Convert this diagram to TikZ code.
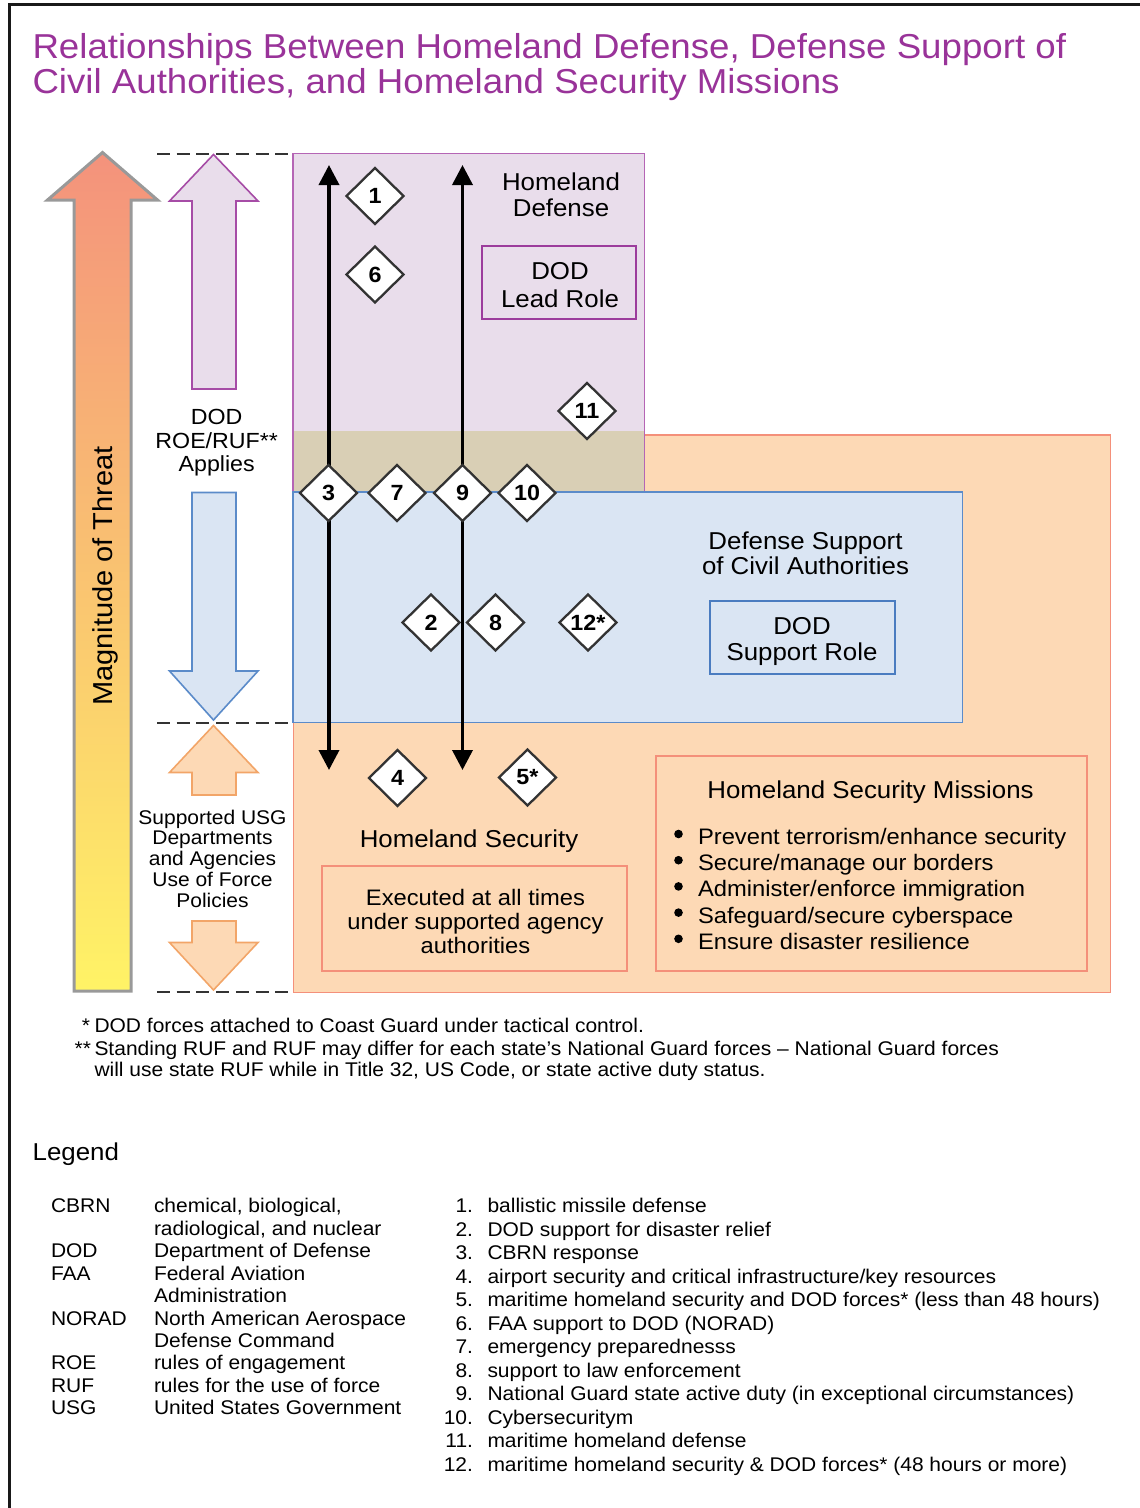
\documentclass[tikz,border=0pt]{standalone}
\usepackage{fontspec}
\setmainfont[FakeStretch=1.06]{Liberation Sans}
\usetikzlibrary{shapes.geometric,arrows.meta}
\definecolor{titlepurple}{RGB}{153,51,153}
\definecolor{hdfill}{RGB}{233,221,235}
\definecolor{hdstroke}{RGB}{181,101,181}
\definecolor{tanfill}{RGB}{217,207,181}
\definecolor{orfill}{RGB}{253,217,181}
\definecolor{orstroke}{RGB}{244,144,122}
\definecolor{blfill}{RGB}{218,229,243}
\definecolor{blstroke}{RGB}{91,139,201}
\definecolor{innerpurple}{RGB}{156,60,156}
\definecolor{innerblue}{RGB}{74,124,192}
\definecolor{arrorange}{RGB}{242,165,104}
\definecolor{arrpurple}{RGB}{166,76,166}
\definecolor{diagray}{RGB}{51,51,51}
\definecolor{threatgray}{RGB}{153,153,153}
\definecolor{thtop}{RGB}{244,146,124}
\definecolor{thmid}{RGB}{252,198,122}
\definecolor{thbot}{RGB}{255,243,102}
\newcommand{\setsz}[1]{\fontsize{#1}{#1}\selectfont}
\begin{document}
\begin{tikzpicture}[x=1pt,y=-1pt,
  lbl/.style={inner sep=0pt, outer sep=0pt, anchor=base},
  lblw/.style={inner sep=0pt, outer sep=0pt, anchor=base west},
  lble/.style={inner sep=0pt, outer sep=0pt, anchor=base east},
  t24/.style={font=\setsz{24.4}},
  t22/.style={font=\setsz{22.4}},
  t21/.style={font=\setsz{21.9}},
  t19/.style={font=\setsz{19.8}},
  dia/.style={diamond, draw=diagray, line width=2.3pt, fill=white,
    minimum width=58pt, minimum height=57pt, inner sep=0pt,
    font=\bfseries\setsz{22}},
  box/.style={draw, line width=2pt, minimum width=#1, inner sep=0pt},
  dashline/.style={draw=diagray, line width=2pt, dash pattern=on 13pt off 6.7pt},
  blackarr/.style={line width=3.6pt, {Triangle[length=20pt,width=20pt]}-{Triangle[length=20pt,width=20pt]}},
]
\useasboundingbox (0,0) rectangle (1140,1508);
% frame
\draw[line width=2.7pt, black!90] (9.7,1510) -- (9.7,4.5) -- (1142,4.5);

% title
\node[lblw, text=titlepurple, font=\setsz{34.6}] (title1) at (32.5,58.5) {Relationships Between Homeland Defense, Defense Support of};
\node[lblw, text=titlepurple, font=\setsz{34.6}] (title2) at (32.5,93.5) {Civil Authorities, and Homeland Security Missions};

% threat arrow
\shade[top color=thtop, middle color=thmid, bottom color=thbot]
  (74,991) -- (74,200) -- (47.5,200) -- (102.5,152.5) -- (157.5,200) -- (131,200) -- (131,991) -- cycle;
\draw[threatgray, line width=3pt, line join=miter]
  (74,991) -- (74,200) -- (47.5,200) -- (102.5,152.5) -- (157.5,200) -- (131,200) -- (131,991) -- cycle;
\node[lbl, rotate=90, font=\setsz{27.4}] (threat) at (112.5,576) {Magnitude of Threat};

% dashed lines
\draw[dashline] (157,154) -- (291,154);
\draw[dashline] (157,722.5) -- (291,722.5);
\draw[dashline] (157,991.5) -- (291,991.5);

% left arrows
\filldraw[fill=hdfill, draw=arrpurple, line width=1.6pt]
  (192,389) -- (192,201) -- (169.5,201) -- (213.5,154.5) -- (258,201) -- (236,201) -- (236,389) -- cycle;
\filldraw[fill=blfill, draw=blstroke, line width=1.6pt]
  (192,492.5) -- (192,671) -- (169.5,671) -- (213.5,720) -- (258,671) -- (236,671) -- (236,492.5) -- cycle;
\filldraw[fill=orfill, draw=arrorange, line width=1.6pt]
  (192,795) -- (192,772.5) -- (169.5,772.5) -- (213.5,725.5) -- (258,772.5) -- (236,772.5) -- (236,795) -- cycle;
\filldraw[fill=orfill, draw=arrorange, line width=1.6pt]
  (192,921) -- (192,942.5) -- (169.5,942.5) -- (213.5,990) -- (258,942.5) -- (236,942.5) -- (236,921) -- cycle;

\node[lbl, t21] (roe1) at (216.7,424) {DOD};
\node[lbl, t21] (roe2) at (216.7,448) {ROE/RUF**};
\node[lbl, t21] (roe3) at (216.7,471.5) {Applies};

\node[lbl, t19] (usg1) at (212.5,824) {Supported USG};
\node[lbl, t19] (usg2) at (212.5,844.8) {Departments};
\node[lbl, t19] (usg3) at (212.5,865.6) {and Agencies};
\node[lbl, t19] (usg4) at (212.5,886.4) {Use of Force};
\node[lbl, t19] (usg5) at (212.5,907.2) {Policies};

% regions
\filldraw[fill=orfill, draw=orstroke, line width=1.5pt] (293.5,435) rectangle (1110.5,992.3);
\fill[hdfill] (293,153.5) rectangle (644.5,492);
\fill[tanfill] (293,431) rectangle (644.5,492);
\draw[hdstroke, line width=1.5pt] (293,492) -- (293,153.5) -- (644.5,153.5) -- (644.5,492);
\filldraw[fill=blfill, draw=blstroke, line width=1.5pt] (293,492) rectangle (962.3,722.3);

% black arrows
\coordinate (lt) at (329,165);
\coordinate (lb) at (329,770);
\coordinate (rt) at (462.5,165);
\coordinate (rb) at (462.5,770);
\draw[blackarr] (lb) -- (lt);
\draw[blackarr] (rb) -- (rt);

% diamonds
\node[dia] (d1) at (375,196) {1};
\node[dia] (d6) at (375,274.5) {6};
\node[dia] (d11) at (587,411) {11};
\node[dia] (d3) at (328.5,493) {3};
\node[dia] (d7) at (397,493) {7};
\node[dia] (d9) at (462.5,493) {9};
\node[dia] (d10) at (527,493) {10};
\node[dia] (d2) at (431,622.5) {2};
\node[dia] (d8) at (495.5,622.5) {8};
\node[dia] (d12) at (588,622.5) {12*};
\node[dia] (d4) at (397.5,778) {4};
\node[dia] (d5) at (527.5,777.5) {5*};

% Homeland Defense
\node[lbl, t24] (hd1) at (561,190.5) {Homeland};
\node[lbl, t24] (hd2) at (561,216.5) {Defense};
\node[box=154pt, draw=innerpurple, minimum height=73pt] (lead) at (559,282.5) {};
\node[lbl, t24] (lead1) at (560,279) {DOD};
\node[lbl, t24] (lead2) at (560,307) {Lead Role};

% DSCA
\node[lbl, t24] (ds1) at (805.5,549) {Defense Support};
\node[lbl, t24] (ds2) at (805.5,574) {of Civil Authorities};
\node[box=185.5pt, draw=innerblue, minimum height=73pt] (support) at (802.3,637.5) {};
\node[lbl, t24] (sup1) at (802,634) {DOD};
\node[lbl, t24] (sup2) at (802,660) {Support Role};

% Homeland Security
\node[lbl, t24] (hs) at (469,847.5) {Homeland Security};
\node[box=305.5pt, draw=orstroke, minimum height=105pt] (exec) at (474.3,918.5) {};
\node[lbl, t22] (ex1) at (475.5,905.5) {Executed at all times};
\node[lbl, t22] (ex2) at (475.5,929.5) {under supported agency};
\node[lbl, t22] (ex3) at (475.5,953.5) {authorities};

% HSM box
\node[box=430.5pt, draw=orstroke, minimum height=215pt] (hsm) at (871.3,863.5) {};
\node[lbl, t24] (hsmt) at (870.5,798) {Homeland Security Missions};
\foreach \y/\t [count=\i] in {844.5/Prevent terrorism\slash enhance security,870.7/Secure\slash manage our borders,896.9/Administer\slash enforce immigration,923.1/Safeguard\slash secure cyberspace,949.3/Ensure disaster resilience}{
  \fill (678.5,\y-10.5) circle (4.3pt);
  \node[lblw, t22] (hsm\i) at (698,\y) {\t};
}

% footnotes
\node[lble, t19] (fa) at (90,1032.5) {*};
\node[lblw, t19] (f1) at (94.5,1032.5) {DOD forces attached to Coast Guard under tactical control.};
\node[lble, t19] (fb) at (91,1055.5) {**};
\node[lblw, t19] (f2) at (94.5,1055.5) {Standing RUF and RUF may differ for each state’s National Guard forces – National Guard forces};
\node[lblw, t19] (f3) at (94.5,1076) {will use state RUF while in Title 32, US Code, or state active duty status.};

% legend
\node[lblw, t24] (legend) at (32.7,1160.5) {Legend};
\foreach \y/\a/\b [count=\i] in {
  1212.8/CBRN/{chemical, biological,},
  1235.5/{}/{radiological, and nuclear},
  1257.8/DOD/Department of Defense,
  1280.5/FAA/Federal Aviation,
  1302.8/{}/Administration,
  1325/NORAD/North American Aerospace,
  1347.2/{}/Defense Command,
  1369.8/ROE/rules of engagement,
  1392.2/RUF/rules for the use of force,
  1414.5/USG/United States Government}{
  \node[lblw, t19] (ab\i) at (51,\y) {\a};
  \node[lblw, t19] (ad\i) at (154,\y) {\b};
}
\foreach \t [count=\i] in {
  ballistic missile defense,
  DOD support for disaster relief,
  CBRN response,
  airport security and critical infrastructure\slash key resources,
  maritime homeland security and DOD forces* (less than 48 hours),
  FAA support to DOD (NORAD),
  emergency preparednesss,
  support to law enforcement,
  National Guard state active duty (in exceptional circumstances),
  Cybersecuritym,
  maritime homeland defense,
  maritime homeland security \& DOD forces* (48 hours or more)}{
  \node[lble, t19] (n\i) at (473,1212.8+23.5*\i-23.5) {\i.};
  \node[lblw, t19] (item\i) at (487.5,1212.8+23.5*\i-23.5) {\t};
}
\end{tikzpicture}
\end{document}
